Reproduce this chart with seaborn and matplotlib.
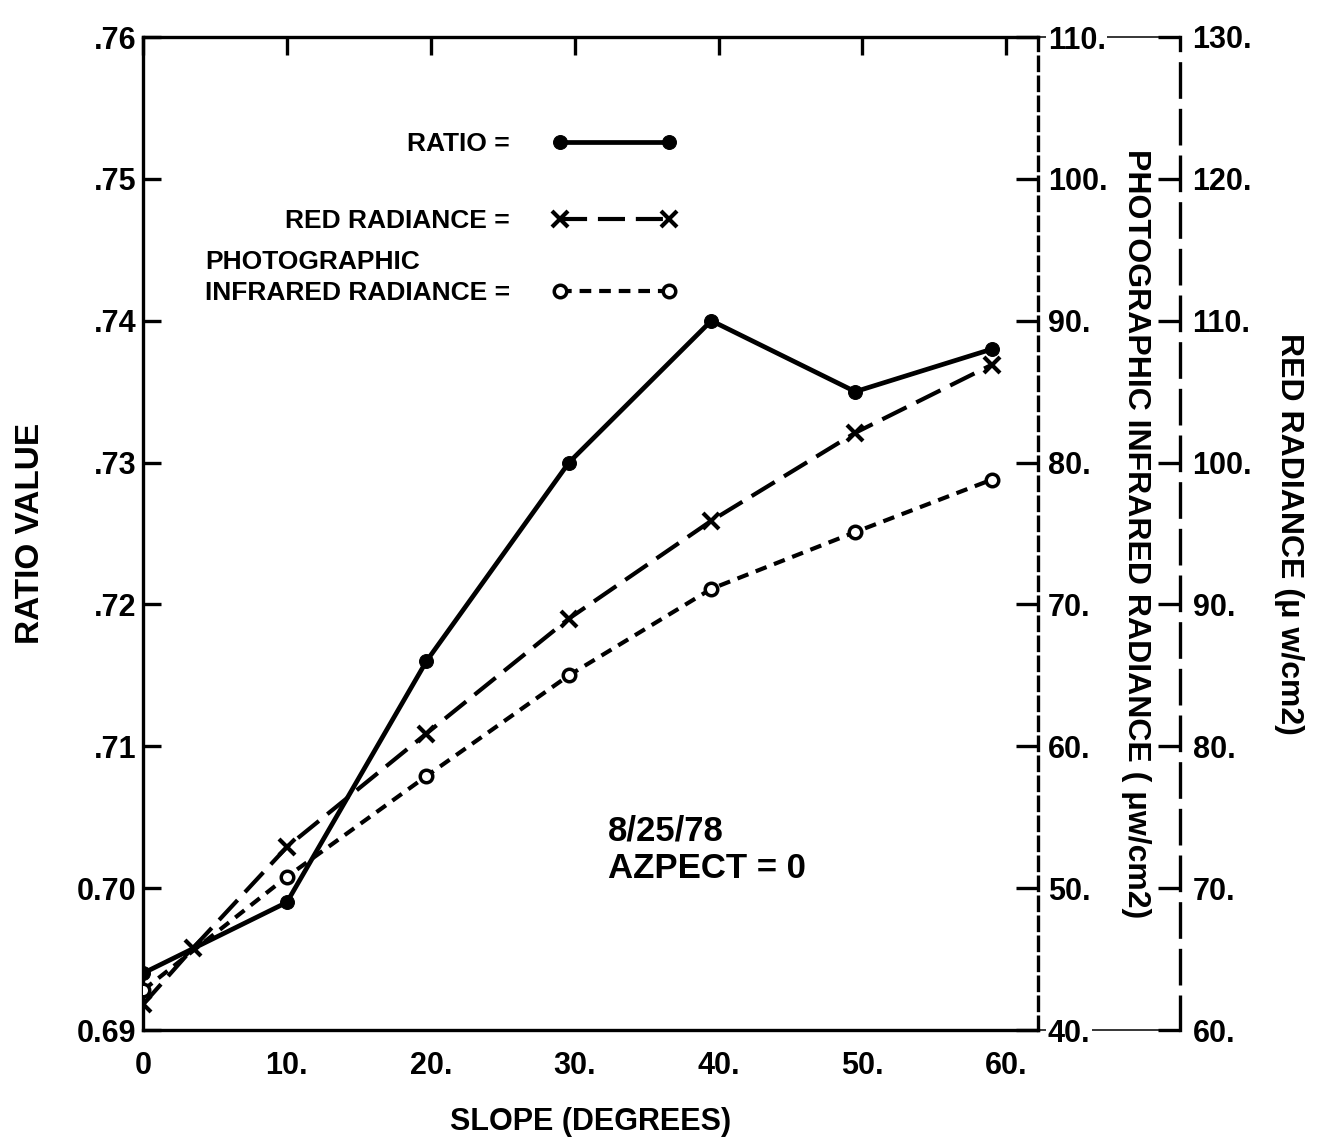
import matplotlib
matplotlib.use("Agg")
import matplotlib.pyplot as plt
import seaborn as sns

# ---------------- data ----------------
slope_ratio = [0, 10, 19.7, 29.6, 39.5, 49.5, 59]
ratio_values = [0.694, 0.699, 0.716, 0.730, 0.740, 0.735, 0.738]

slope_red = [0, 3.5, 10, 19.7, 29.6, 39.5, 49.5, 59]
red_radiance = [61.8, 65.8, 72.9, 80.9, 89.0, 95.9, 102.1, 106.9]

slope_pir = [0, 10, 19.7, 29.6, 39.5, 49.5, 59]
pir_radiance = [42.8, 50.8, 57.9, 65.0, 71.1, 75.1, 78.8]

x_ticks = [0, 10, 20, 30, 40, 50, 60]
x_tick_labels = ["0", "10.", "20.", "30.", "40.", "50.", "60."]
ratio_ticks = [0.69, 0.70, 0.71, 0.72, 0.73, 0.74, 0.75, 0.76]
ratio_tick_labels = ["0.69", "0.70", ".71", ".72", ".73", ".74", ".75", ".76"]
pir_ticks = [40, 50, 60, 70, 80, 90, 100, 110]
pir_tick_labels = ["40.", "50.", "60.", "70.", "80.", "90.", "100.", "110."]
red_ticks = [60, 70, 80, 90, 100, 110, 120, 130]
red_tick_labels = ["60.", "70.", "80.", "90.", "100.", "110.", "120.", "130."]

legend_labels = ["RATIO =", "RED RADIANCE =", "INFRARED RADIANCE ="]
legend_pir_title = "PHOTOGRAPHIC"
annotation = "8/25/78\nAZPECT = 0"

# ---------------- style ----------------
sns.set_style("white")
plt.rcParams["font.family"] = ["Liberation Sans", "DejaVu Sans"]
plt.rcParams["font.weight"] = "bold"
plt.rcParams["axes.labelweight"] = "bold"
plt.rcParams["text.color"] = "black"
plt.rcParams["axes.labelcolor"] = "black"
plt.rcParams["xtick.color"] = "black"
plt.rcParams["ytick.color"] = "black"

W, H = 1318, 1143
fig = plt.figure(figsize=(W / 100, H / 100), dpi=100)
x0, x1 = 143, 1038
y0, y1 = 1030, 37
xr = 1180
rect = [x0 / W, 1 - y0 / H, (x1 - x0) / W, (y0 - y1) / H]
ax = fig.add_axes(rect)

# frame for the outer (red) axis: thin top/bottom lines
frame = fig.add_axes([x1 / W, 1 - y0 / H, (xr - x1) / W, (y0 - y1) / H])
frame.set_facecolor("none")
frame.set_xticks([])
frame.set_yticks([])
for s in ["left", "right"]:
    frame.spines[s].set_visible(False)
for s in ["top", "bottom"]:
    frame.spines[s].set_linewidth(1.1)
    frame.spines[s].set_color("black")

ax_ir = ax.twinx()
ax_red = ax.twinx()

lw = 3.0
sns.lineplot(x=slope_ratio, y=ratio_values, ax=ax, color="black", linewidth=3.4,
             marker="o", markersize=10, markeredgecolor="black", markerfacecolor="black")
l_ratio = ax.lines[-1]
sns.lineplot(x=slope_red, y=red_radiance, ax=ax_red, color="black", linewidth=lw,
             linestyle=(0, (6.5, 2.6)), marker="x", markersize=11, markeredgewidth=3,
             markeredgecolor="black")
l_red = ax_red.lines[-1]
sns.lineplot(x=slope_pir, y=pir_radiance, ax=ax_ir, color="black", linewidth=lw,
             linestyle=(0, (2.8, 1.9)), marker="o", markersize=9, markeredgewidth=2.5,
             markerfacecolor="white", markeredgecolor="black")
l_pir = ax_ir.lines[-1]

# ---------------- main axes ----------------
ax.set_xlim(0, 62.2)
ax.set_ylim(0.69, 0.76)
ax.set_xticks(x_ticks)
ax.set_xticklabels(x_tick_labels)
ax.set_yticks(ratio_ticks)
ax.set_yticklabels(ratio_tick_labels)
ax.tick_params(axis="both", direction="in", length=13, width=2.4, labelsize=22,
               colors="black", top=True, right=False)
ax.tick_params(axis="x", pad=15)
ax.tick_params(axis="y", pad=5)
for s in ["left", "top", "bottom"]:
    ax.spines[s].set_linewidth(2.4)
    ax.spines[s].set_color("black")
ax.spines["right"].set_visible(False)
ax.set_xlabel("SLOPE (DEGREES)", fontsize=22, labelpad=19)
ax.set_ylabel("RATIO VALUE", fontsize=24, labelpad=22)

# ---------------- photographic IR axis ----------------
ax_ir.set_ylim(40, 110)
ax_ir.set_yticks(pir_ticks)
ax_ir.set_yticklabels(pir_tick_labels)
ax_ir.tick_params(axis="y", direction="in", length=16, width=2.4, labelsize=22, pad=7,
                  colors="black")
for s in ["left", "top", "bottom"]:
    ax_ir.spines[s].set_visible(False)
ax_ir.spines["right"].set_linewidth(2.4)
ax_ir.spines["right"].set_linestyle((0, (4, 2)))
ax_ir.spines["right"].set_color("black")
ax_ir.set_ylabel("PHOTOGRAPHIC INFRARED RADIANCE ( \u03bcw/cm2)", fontsize=23,
                 rotation=-90, va="bottom", labelpad=10)
for lab in ax_ir.get_yticklabels():
    lab.set_bbox(dict(facecolor="white", edgecolor="none", pad=1))

# ---------------- red radiance axis ----------------
ax_red.set_ylim(60, 130)
ax_red.spines["right"].set_position(("axes", (xr - x0) / (x1 - x0)))
ax_red.set_yticks(red_ticks)
ax_red.set_yticklabels(red_tick_labels)
ax_red.tick_params(axis="y", direction="in", length=16, width=2.4, labelsize=22, pad=9,
                   colors="black")
for s in ["left", "top", "bottom"]:
    ax_red.spines[s].set_visible(False)
ax_red.spines["right"].set_linewidth(2.4)
ax_red.spines["right"].set_linestyle((0, (10, 4)))
ax_red.spines["right"].set_color("black")
ax_red.set_ylabel("RED RADIANCE (\u03bc w/cm2)", fontsize=23, rotation=-90,
                  va="bottom", labelpad=16)

# ---------------- legend ----------------
leg_kw = dict(loc="upper right", markerfirst=False, frameon=False, numpoints=2,
              handlelength=4.7, handletextpad=1.6, fontsize=19, borderpad=0,
              borderaxespad=0)
leg1 = ax_red.legend([l_ratio, l_red], legend_labels[:2],
                     bbox_to_anchor=(0.596, 0.904), labelspacing=2.0, **leg_kw)
ax_red.add_artist(leg1)
leg2 = ax_red.legend([l_pir], legend_labels[2:], title=legend_pir_title,
                     alignment="left", title_fontproperties={"size": 19, "weight": "bold"},
                     bbox_to_anchor=(0.596, 0.785), labelspacing=0.25, **leg_kw)

# ---------------- annotation ----------------
ax.text(32.3, 0.7027, annotation, fontsize=25, ha="left", va="center",
        linespacing=1.15)

fig.savefig("out.png", dpi=100)
